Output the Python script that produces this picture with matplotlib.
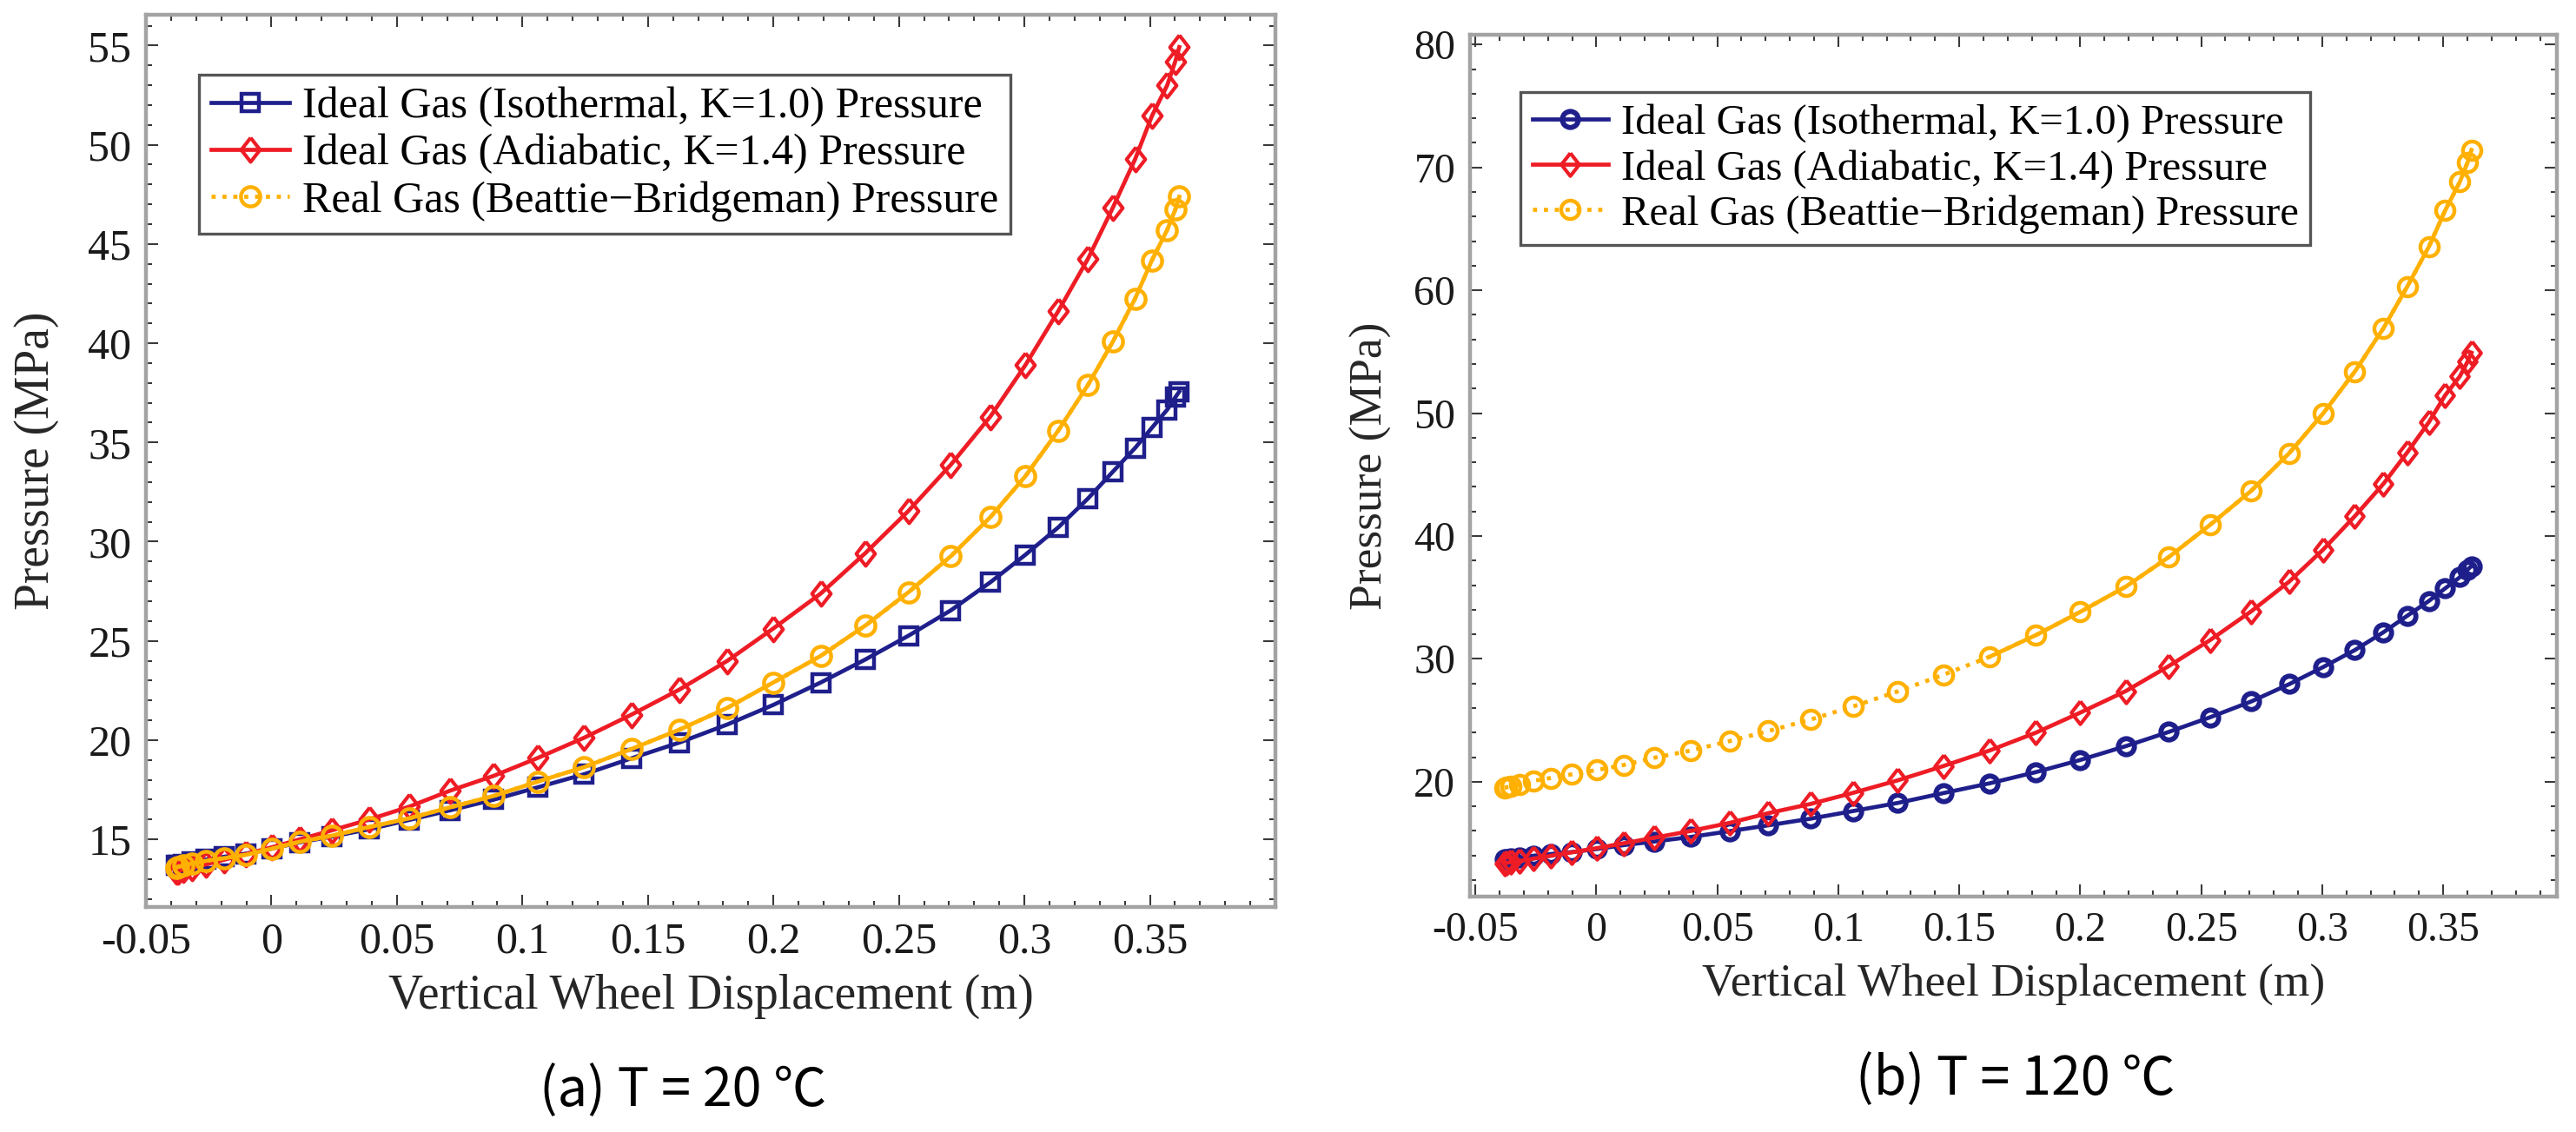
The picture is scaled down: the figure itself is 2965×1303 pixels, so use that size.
import matplotlib
matplotlib.use("Agg")
import matplotlib.pyplot as plt
from matplotlib.ticker import MultipleLocator, FixedLocator

# ---------------- data ----------------
displacement = [-0.0380, -0.0372, -0.0352, -0.0317, -0.0260, -0.0189, -0.0101, 0.0002,
                0.0114, 0.0240, 0.0390, 0.0550, 0.0711, 0.0886, 0.1061, 0.1246,
                0.1434, 0.1626, 0.1817, 0.1999, 0.2188, 0.2366, 0.2538, 0.2707,
                0.2864, 0.3004, 0.3135, 0.3253, 0.3352, 0.3441, 0.3508, 0.3569,
                0.3601, 0.3617]

p_isothermal = [13.68, 13.70, 13.75, 13.85, 13.98, 14.12, 14.28, 14.53, 14.85, 15.14,
                15.51, 15.98, 16.46, 17.00, 17.62, 18.28, 19.08, 19.88, 20.79, 21.77,
                22.90, 24.06, 25.26, 26.54, 27.95, 29.34, 30.72, 32.17, 33.52, 34.72,
                35.74, 36.65, 37.27, 37.56]

p_adiabatic = [13.37, 13.40, 13.46, 13.56, 13.74, 13.97, 14.26, 14.60, 15.00, 15.45,
               16.00, 16.65, 17.45, 18.20, 19.10, 20.12, 21.28, 22.55, 24.00, 25.62,
               27.38, 29.42, 31.55, 33.88, 36.30, 38.90, 41.62, 44.25, 46.82, 49.27,
               51.45, 53.00, 54.20, 54.92]

p_real_20C = [13.58, 13.62, 13.68, 13.78, 13.92, 14.05, 14.22, 14.53, 14.88, 15.18,
              15.62, 16.06, 16.61, 17.19, 17.91, 18.64, 19.55, 20.53, 21.63, 22.90,
              24.24, 25.77, 27.45, 29.27, 31.23, 33.30, 35.60, 37.89, 40.07, 42.25,
              44.18, 45.71, 46.73, 47.38]

p_real_120C = [19.52, 19.55, 19.62, 19.80, 20.08, 20.31, 20.61, 20.96, 21.37, 21.96,
               22.54, 23.31, 24.13, 25.07, 26.13, 27.36, 28.71, 30.18, 31.94, 33.82,
               35.88, 38.29, 40.93, 43.69, 46.75, 49.98, 53.39, 56.91, 60.32, 63.55,
               66.49, 68.83, 70.42, 71.42]

x_ticks = [-0.05, 0, 0.05, 0.1, 0.15, 0.2, 0.25, 0.3, 0.35]
x_tick_labels = ["-0.05", "0", "0.05", "0.1", "0.15", "0.2", "0.25", "0.3", "0.35"]

labels = ["Ideal Gas (Isothermal, K=1.0) Pressure",
          "Ideal Gas (Adiabatic, K=1.4) Pressure",
          "Real Gas (Beattie\u2212Bridgeman) Pressure"]
captions = ["(a) T = 20 \u2103", "(b) T = 120 \u2103"]
xlabel = "Vertical Wheel Displacement (m)"
ylabel = "Pressure (MPa)"

# ---------------- style ----------------
W, H = 2965, 1303
BLUE = "#1f1f8c"
RED = "#ee1c25"
ORANGE = "#ffb000"
SPINE = "#a3a3a3"
SERIF = ["Liberation Serif", "DejaVu Serif"]
plt.rcParams["axes.unicode_minus"] = False
plt.rcParams["font.family"] = SERIF

diamond = [(0, 1), (0.78, 0), (0, -1), (-0.78, 0), (0, 1)]

fig = plt.figure(figsize=(W / 100, H / 100), dpi=100)
fig.patch.set_facecolor("white")

ax1 = fig.add_axes([168 / W, 1 - 1044 / H, 1300 / W, 1027 / H])
ax2 = fig.add_axes([1692 / W, 1 - 1032 / H, 1251 / W, 992 / H])


def style_axes(ax, tick_fs, xlim, ylim, ymaj, ymin):
    ax.set_xlim(*xlim)
    ax.set_ylim(*ylim)
    ax.xaxis.set_major_locator(FixedLocator(x_ticks))
    ax.set_xticklabels(x_tick_labels)
    ax.xaxis.set_minor_locator(MultipleLocator(0.01))
    ax.yaxis.set_major_locator(MultipleLocator(ymaj))
    ax.yaxis.set_minor_locator(MultipleLocator(ymin))
    ax.tick_params(which="both", direction="in", top=True, right=True,
                   color="#3a3a3a", width=1.5)
    ax.tick_params(which="major", length=10)
    ax.tick_params(which="minor", length=5)
    ax.tick_params(axis="x", which="major", pad=12, labelsize=tick_fs)
    ax.tick_params(axis="y", which="major", pad=12, labelsize=tick_fs)
    for s in ax.spines.values():
        s.set_color(SPINE)
        s.set_linewidth(3.2)
    for t in ax.get_xticklabels() + ax.get_yticklabels():
        t.set_color("#1a1a1a")


def draw(ax, real, solid_from, blue_marker, ms_scale, blue_mew):
    ax.plot(displacement, p_isothermal, "-", color=BLUE, lw=3.4,
            marker=blue_marker, ms=14 * ms_scale, mfc="none", mec=BLUE, mew=blue_mew,
            label=labels[0], zorder=3)
    ax.plot(displacement, p_adiabatic, "-", color=RED, lw=3.4,
            marker=diamond, ms=20 * ms_scale, mfc="none", mec=RED, mew=3.0,
            label=labels[1], zorder=4)
    ax.plot(displacement, real, ":", color=ORANGE, lw=3.4,
            marker="o", ms=16 * ms_scale, mfc="none", mec=ORANGE, mew=3.2,
            label=labels[2], zorder=5)
    ax.plot(displacement[solid_from:], real[solid_from:], "-", color=ORANGE,
            lw=3.4, zorder=5)


draw(ax1, p_real_20C, 0, "s", 1.0, 3.2)
draw(ax2, p_real_120C, 17, "o", 0.95, 4.2)

style_axes(ax1, 36, (-0.05, 0.4), (11.59, 56.55), 5, 1)
style_axes(ax2, 34.5, (-0.0522, 0.397), (10.66, 80.8), 10, 2)

for ax, fs, lx, ly, xly in [(ax1, 40, -0.077, 0.5, -0.075),
                            (ax2, 38.5, -0.072, 0.5, -0.077)]:
    ax.set_xlabel(xlabel, fontsize=fs, color="#262626")
    ax.set_ylabel(ylabel, fontsize=fs, color="#262626")
    ax.yaxis.set_label_coords(lx, ly)
    ax.xaxis.set_label_coords(0.5, xly)

for ax, fs, ax_x, ax_y in [(ax1, 36, 0.0469, 0.9328), (ax2, 35, 0.0464, 0.9335)]:
    leg = ax.legend(loc="upper left", bbox_to_anchor=(ax_x, ax_y), borderaxespad=0,
                    fontsize=fs, frameon=True, fancybox=False, numpoints=1,
                    handlelength=1.8, handletextpad=0.3, labelspacing=0.15,
                    borderpad=0.28, framealpha=1.0)
    leg.get_frame().set_edgecolor("#555555")
    leg.get_frame().set_linewidth(2.4)

cap_font = ["Noto Sans CJK KR", "DejaVu Sans"]
fig.text(786 / W, 1 - 1256 / H, captions[0], fontsize=44, family=cap_font,
         ha="center", va="center", color="black")
fig.text(2320 / W, 1 - 1243 / H, captions[1], fontsize=44, family=cap_font,
         ha="center", va="center", color="black")

fig.savefig("out.png", dpi=100, facecolor="white")
